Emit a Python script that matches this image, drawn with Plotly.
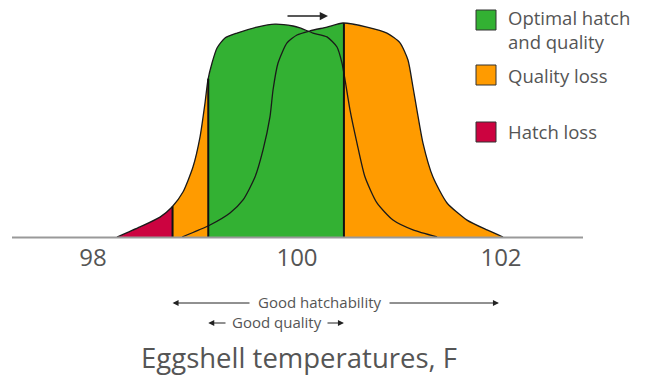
import numpy as np
import plotly.graph_objects as go

# ---- data ----
# Distribution of eggshell temperatures (relative height), original position
temp_a = [98.235, 98.461, 98.657, 98.775, 98.882, 98.980, 99.049, 99.098, 99.127, 99.167,
          99.216, 99.294, 99.412, 99.608, 99.784, 99.961, 100.029, 100.157, 100.294, 100.392,
          100.441, 100.471, 100.520, 100.588, 100.667, 100.784, 100.941, 101.137, 101.373]
height_a = [0.0, 0.047, 0.093, 0.140, 0.210, 0.327, 0.467, 0.626, 0.734, 0.813,
            0.883, 0.930, 0.953, 0.981, 0.995, 0.986, 0.977, 0.953, 0.935, 0.888,
            0.813, 0.734, 0.593, 0.439, 0.280, 0.159, 0.079, 0.033, 0.0]
# Shifted distribution
temp_b = [98.873, 99.147, 99.343, 99.471, 99.588, 99.667, 99.735, 99.765, 99.814, 99.902,
          100.000, 100.127, 100.294, 100.451, 100.686, 100.882, 101.010, 101.088, 101.137,
          101.176, 101.235, 101.333, 101.471, 101.667, 101.863, 102.020]
height_b = [0.0, 0.056, 0.112, 0.173, 0.280, 0.407, 0.561, 0.687, 0.813, 0.907,
            0.944, 0.963, 0.981, 1.0, 0.981, 0.953, 0.907, 0.827, 0.701,
            0.593, 0.439, 0.280, 0.159, 0.079, 0.033, 0.0]

# zone limits (F)
hatch_loss_limit = 98.78
quality_low_limit = 99.13
quality_high_limit = 100.46
hatch_high_limit = 101.98

tick_vals = [98, 100, 102]
tick_text = ["98", "100", "102"]

legend_labels = ["Optimal hatch<br>and quality", "Quality loss", "Hatch loss"]
GREEN, ORANGE, RED = "#33b133", "#ff9b00", "#cc0340"
legend_colors = [GREEN, ORANGE, RED]

x_title = "Eggshell temperatures, F"
range_labels = ["Good hatchability", "Good quality"]

# ---- geometry helpers ----
W, H = 646, 376
X0 = 100 - 297 / 102
X1 = 100 + (W - 297) / 102
Y1 = 237 / 214
Y0 = -(H - 237) / 214
LINE_SHAPE = dict(shape="spline", smoothing=0.6)


def px(x):
    return X0 + x / 102.0


def py(y):
    return (237 - y) / 214.0


def clip(xs, ys, lo, hi):
    xs = np.asarray(xs)
    ys = np.asarray(ys)
    lo2 = max(lo, xs[0])
    hi2 = min(hi, xs[-1])
    if hi2 <= lo2:
        return None, None
    m = (xs > lo2 + 1e-6) & (xs < hi2 - 1e-6)
    cx = np.concatenate([[lo2], xs[m], [hi2]])
    cy = np.concatenate([[np.interp(lo2, xs, ys)], ys[m], [np.interp(hi2, xs, ys)]])
    return cx, cy


fig = go.Figure()

zones = [
    (temp_a[0], hatch_loss_limit, RED),
    (hatch_loss_limit, quality_low_limit, ORANGE),
    (quality_low_limit, quality_high_limit, GREEN),
    (quality_high_limit, temp_b[-1], ORANGE),
]
for lo, hi, col in zones:
    for xs, ys in ((temp_a, height_a), (temp_b, height_b)):
        cx, cy = clip(xs, ys, lo, hi)
        if cx is None:
            continue
        fig.add_trace(go.Scatter(x=cx, y=cy, mode="lines", fill="tozeroy",
                                 fillcolor=col, line=dict(width=0, color=col, **LINE_SHAPE),
                                 hoverinfo="skip", showlegend=False))

for xs, ys in ((temp_a, height_a), (temp_b, height_b)):
    fig.add_trace(go.Scatter(x=xs, y=ys, mode="lines",
                             line=dict(color="#1a1a1a", width=1.3, **LINE_SHAPE),
                             hoverinfo="skip", showlegend=False))

# vertical zone boundaries
for b in (hatch_loss_limit, quality_low_limit, quality_high_limit):
    top = max(np.interp(b, temp_a, height_a, left=0, right=0),
              np.interp(b, temp_b, height_b, left=0, right=0))
    fig.add_shape(type="line", x0=b, x1=b, y0=0, y1=top, xref="x", yref="y",
                  line=dict(color="#111111", width=2))

# baseline
fig.add_shape(type="line", x0=px(12), x1=px(583), y0=py(237.5), y1=py(237.5),
              xref="x", yref="y", line=dict(color="#999999", width=2))

annotations = []
arrow_common = dict(xref="x", yref="y", axref="x", ayref="y", text="", showarrow=True,
                    arrowcolor="#222222", arrowhead=2, arrowsize=1.2, arrowwidth=1)
# top shift arrow
annotations.append(dict(x=px(328), y=py(16), ax=px(286), ay=py(16),
                        **{**arrow_common, "arrowwidth": 1.5, "arrowsize": 1.1}))
# good hatchability
annotations.append(dict(x=hatch_loss_limit, y=py(303), ax=px(251), ay=py(303), **arrow_common))
annotations.append(dict(x=hatch_high_limit, y=py(303), ax=px(388), ay=py(303), **arrow_common))
annotations.append(dict(x=px(319.5), y=py(302), text=range_labels[0], showarrow=False,
                        xref="x", yref="y", font=dict(size=15, color="#555555", family="Open Sans")))
# good quality
annotations.append(dict(x=quality_low_limit, y=py(323), ax=px(227), ay=py(323), **arrow_common))
annotations.append(dict(x=quality_high_limit, y=py(323), ax=px(326), ay=py(323), **arrow_common))
annotations.append(dict(x=px(276.5), y=py(322), text=range_labels[1], showarrow=False,
                        xref="x", yref="y", font=dict(size=15, color="#555555", family="Open Sans")))
# axis title
annotations.append(dict(x=px(298.5), y=py(357), text=x_title, showarrow=False,
                        xref="x", yref="y", font=dict(size=27.5, color="#555555", family="Open Sans")))

# legend
legend_tops = [10, 65, 122]
legend_text_y = [29, 75.5, 131.5]
for lab, col, top, ty in zip(legend_labels, legend_colors, legend_tops, legend_text_y):
    fig.add_shape(type="rect", x0=px(476), x1=px(496), y0=py(top), y1=py(top + 20),
                  xref="x", yref="y", fillcolor=col, line=dict(color="#333333", width=1))
    annotations.append(dict(x=px(506), y=py(ty), text=lab, showarrow=False, xref="x", yref="y",
                            xanchor="left", yanchor="middle", align="left",
                            font=dict(size=18.5, color="#555555", family="Open Sans")))

fig.update_layout(
    width=W, height=H, margin=dict(l=0, r=0, t=0, b=0),
    paper_bgcolor="white", plot_bgcolor="white",
    xaxis=dict(range=[X0, X1], showgrid=False, zeroline=False, showline=False,
               tickvals=tick_vals, ticktext=tick_text, ticks="",
               tickfont=dict(size=24, color="#555555", family="Open Sans"),
               anchor="free", position=1 - 241 / H, fixedrange=True),
    yaxis=dict(range=[Y0, Y1], showgrid=False, zeroline=False, showline=False,
               showticklabels=False, fixedrange=True),
    annotations=annotations,
    showlegend=False,
)

fig.write_html("out.html", config={"displayModeBar": False})
